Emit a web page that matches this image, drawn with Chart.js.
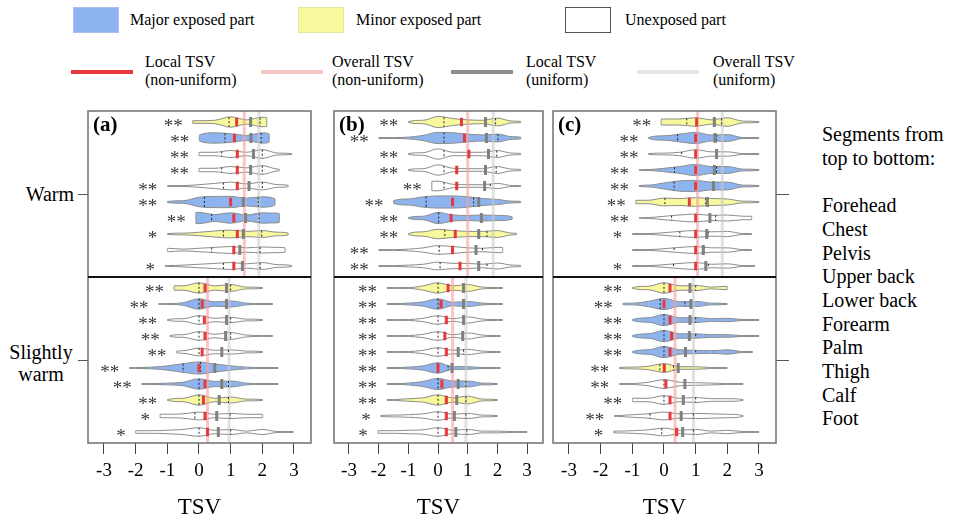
<!DOCTYPE html>
<html>
<head>
<meta charset="utf-8">
<script src="https://cdn.jsdelivr.net/npm/chart.js@4.4.1/dist/chart.umd.min.js"></script>
<style>
  body { margin: 0; background: #fff; font-family: 'Liberation Serif', 'Times New Roman', serif; color: #000; }
  #wrap { position: relative; width: 957px; height: 522px; overflow: hidden; }
  canvas { position: absolute; left: 0; top: 0; }
  .lg { position: absolute; font-size: 16px; line-height: 18px; white-space: nowrap; }
  .box { position: absolute; top: 7px; width: 46px; height: 26px; box-sizing: border-box; }
  .ln { position: absolute; top: 70px; width: 62px; height: 4px; }
  .side { position: absolute; font-size: 20px; white-space: nowrap; }
</style>
</head>
<body>
<div id="wrap">
  <div class="box" style="left:73px;background:#8db4ef;border:1px solid #a9c2e8"></div>
  <div class="lg" style="left:130px;top:11px">Major exposed part</div>
  <div class="box" style="left:298px;background:#f8f89c;border:1px solid #e6e6a8"></div>
  <div class="lg" style="left:356px;top:11px">Minor exposed part</div>
  <div class="box" style="left:565px;background:#fff;border:1.5px solid #555"></div>
  <div class="lg" style="left:625px;top:11px">Unexposed part</div>

  <div class="ln" style="left:71px;background:#e6383e"></div>
  <div class="lg" style="left:145px;top:53px">Local TSV<br>(non-uniform)</div>
  <div class="ln" style="left:261px;background:#f7c4c4"></div>
  <div class="lg" style="left:332px;top:53px">Overall TSV<br>(non-uniform)</div>
  <div class="ln" style="left:451px;background:#8e8e8e"></div>
  <div class="lg" style="left:526px;top:53px">Local TSV<br>(uniform)</div>
  <div class="ln" style="left:637px;background:#e6e6e6"></div>
  <div class="lg" style="left:713px;top:53px">Overall TSV<br>(uniform)</div>

  <div class="side" style="left:0;width:74px;top:182px;line-height:24px;text-align:right">Warm</div>
  <div class="side" style="left:8px;width:66px;top:341px;line-height:22px;text-align:center">Slightly<br>warm</div>
  <div class="side" id="segList" style="left:822px;top:123px;line-height:23.7px"></div>

  <canvas id="panelA" width="957" height="522"></canvas>
  <canvas id="panelB" width="957" height="522"></canvas>
  <canvas id="panelC" width="957" height="522"></canvas>
</div>
<script>
// ---- data ----
const panels = ['(a)', '(b)', '(c)'];
const conditions = ['Warm', 'Slightly warm'];
const segments = ['Forehead', 'Chest', 'Pelvis', 'Upper back', 'Lower back', 'Forearm', 'Palm', 'Thigh', 'Calf', 'Foot'];
const tsvTicks = [-3, -2, -1, 0, 1, 2, 3];
const tsvGrid = [-3, -2.5, -2, -1.5, -1, -0.5, 0, 0.5, 1, 1.5, 2, 2.5, 3];

// one entry per panel+condition: (a) warm, (a) slightly warm, (b) warm, ...
// M = major exposed, m = minor exposed, U = unexposed
const exposure = ['mMUUUMMmUU', 'mMUUUMMmUU', 'mMUUUMMmUU', 'mMUUUMMmUU', 'mMUMMmUUUU', 'mMMMMmUUUU'];

const significance = [
  ['**', '**', '**', '**', '**', '**', '**', '*', '', '*'],
  ['**', '**', '**', '**', '**', '**', '**', '**', '*', '*'],
  ['**', '**', '**', '**', '**', '**', '**', '**', '**', '**'],
  ['**', '**', '**', '**', '**', '**', '**', '**', '*', '*'],
  ['**', '**', '**', '**', '**', '**', '**', '*', '', '*'],
  ['**', '**', '**', '**', '**', '**', '**', '**', '**', '*']
];

const violinRange = [
  [[-0.2, 2.14], [0.01, 2.22], [0, 2.93], [0, 2.54], [-1, 2.82], [-1, 2.4], [-0.1, 2.54], [-1, 2.82], [-1, 2.72], [-1.07, 2.93]],
  [[-0.79, 2.01], [-1.28, 2.33], [-1, 2.01], [-0.92, 2.33], [-0.71, 2.01], [-2.2, 2.5], [-1.81, 2.5], [-1, 2.01], [-1.23, 2.01], [-2, 2.98]],
  [[-1, 2.79], [-2, 2.79], [-1, 2.79], [-1, 2.79], [-0.21, 2.79], [-1.5, 2.79], [-1, 2.5], [-1, 2.65], [-2, 2.18], [-2, 2.79]],
  [[-1.72, 2.18], [-1.72, 2.18], [-1.72, 2.18], [-1.72, 2.1], [-1.72, 2.1], [-1.72, 2.1], [-1.72, 2.0], [-1.72, 2.0], [-1.93, 2.0], [-2.03, 3.0]],
  [[-0.09, 3.0], [-0.49, 3.0], [-0.49, 3.0], [-0.79, 3.0], [-0.79, 3.0], [-0.89, 3.0], [-0.79, 2.77], [-1, 2.77], [-1, 2.77], [-1, 2.87]],
  [[-1, 2.0], [-1.3, 2.0], [-1, 3.0], [-1, 3.0], [-1, 2.8], [-1.41, 2.0], [-1.41, 2.5], [-1, 2.5], [-1.57, 2.5], [-1.6, 3.0]]
];

// violin density (relative half width) sampled on tsvGrid
const violinDensity = [
  [[0,0,0,0,0,3,3,4,12,5,11,8,0], [0,0,0,0,0,7,7,12,10,6,12,6,0], [0,0,0,0,0,0,4,4,8,4,10,2,1], [0,0,0,0,0,0,4,4,8,5,10,2,0],
   [0,0,0,0,1,1,3,6,9,5,9,3,1], [0,0,0,0,1,3,11,13,13,9,12,6,0], [0,0,0,0,0,12,13,8,12,7,12,11,0], [0,0,0,0,1,2,4,7,9,6,8,4,1],
   [0,0,0,0,4,2,4,6,8,5,7,6,4], [0,0,0,0,1,2,4,6,8,5,8,3,1]],
  [[0,0,0,0,5,5,12,5,8,2,1,0,0], [0,0,0,0,1,3,12,5,7,2,1,1,0], [0,0,0,0,1,3,10,4,6,2,1,0,0], [0,0,0,0,1,3,10,4,8,2,1,1,0],
   [0,0,0,0,0,3,9,4,5,2,1,0,0], [0,0,1,2,5,10,14,9,5,2,1,1,0], [0,0,1,1,2,4,12,6,7,2,1,1,0], [0,0,0,0,1,4,12,4,7,2,1,0,0],
   [0,0,0,4,4,5,9,4,6,4,4,0,0], [0,0,3,3,4,6,10,4,6,2,6,1,1]],
  [[0,0,0,0,1,4,13,8,5,4,9,2,1], [0,0,1,1,2,6,13,12,9,7,9,3,1], [0,0,0,0,1,3,12,4,4,4,8,2,1], [0,0,0,0,1,3,12,4,3,3,8,2,1],
   [0,0,0,0,0,11,11,4,3,3,6,1,1], [0,0,0,3,7,12,14,14,12,8,6,2,1], [0,0,0,0,1,4,13,7,6,7,6,3,0], [0,0,0,0,1,5,11,8,6,6,8,2,1],
   [0,0,1,1,2,5,10,8,5,4,6,6,0], [0,0,1,1,2,4,9,6,6,4,7,2,1]],
  [[0,0,1,1,1,5,12,5,8,2,1,1,0], [0,0,1,1,2,5,12,4,6,2,1,1,0], [0,0,1,1,1,4,10,3,7,2,1,1,0], [0,0,1,1,1,4,10,3,7,2,1,1,0],
   [0,0,1,1,1,4,10,4,6,2,1,1,0], [0,0,1,1,2,5,12,3,3,1,1,1,0], [0,0,1,1,2,6,13,7,7,2,1,0,0], [0,0,1,1,3,5,12,5,9,2,1,0,0],
   [0,0,1,2,3,5,10,4,6,2,1,0,0], [0,0,3,3,4,5,10,4,6,2,2,1,1]],
  [[0,0,0,0,0,7,7,7,10,5,10,2,1], [0,0,0,0,0,1,5,9,13,7,8,1,1], [0,0,0,0,0,1,2,4,10,5,5,1,1], [0,0,0,0,0,1,4,8,13,8,8,2,1],
   [0,0,0,0,0,2,7,12,13,9,9,2,1], [0,0,0,0,4,4,9,8,10,8,7,2,1], [0,0,0,0,0,1,4,7,9,6,7,4,4], [0,0,0,0,1,1,3,6,8,5,6,1,1],
   [0,0,0,0,1,1,3,6,8,5,5,1,1], [0,0,0,0,1,1,3,6,8,4,5,1,1]],
  [[0,0,0,0,1,4,12,5,6,2,4,0,0], [0,0,0,1,2,6,13,5,6,2,1,0,0], [0,0,0,0,1,5,13,5,6,3,4,1,1], [0,0,0,0,1,5,13,5,5,3,3,1,1],
   [0,0,0,0,1,5,13,5,4,3,5,1,1], [0,0,0,1,2,4,10,3,3,1,1,0,0], [0,0,0,1,1,4,10,4,3,2,1,1,0], [0,0,0,0,4,4,10,4,6,3,3,1,0],
   [0,0,0,1,3,5,9,5,6,5,4,1,0], [0,0,0,2,3,5,9,4,6,2,4,1,1]]
];

const localNonUniform = [
  [1.19, 1.12, 1.21, 1.21, 1.21, 1.0, 1.1, 1.21, 1.1, 1.1],
  [0.19, 0.1, 0.17, 0.19, 0.1, 0.0, 0.19, 0.14, 0.19, 0.27],
  [0.79, 0.89, 1.04, 0.63, 0.63, 0.49, 0.44, 0.58, 0.49, 0.74],
  [0.34, 0.1, 0.28, 0.23, 0.28, 0.0, 0.13, 0.28, 0.28, 0.28],
  [1.03, 1.0, 1.0, 1.0, 1.0, 0.8, 1.0, 1.0, 1.0, 1.0],
  [0.19, 0.0, 0.19, 0.24, 0.19, 0.01, 0.06, 0.19, 0.19, 0.4]
];
const localUniform = [
  [1.63, 1.64, 1.72, 1.63, 1.58, 1.4, 1.47, 1.4, 1.29, 1.37],
  [0.87, 0.87, 0.87, 0.84, 0.72, 0.5, 0.72, 0.64, 0.56, 0.61],
  [1.6, 1.63, 1.7, 1.6, 1.57, 1.37, 1.46, 1.37, 1.28, 1.37],
  [0.86, 0.86, 0.86, 0.83, 0.68, 0.47, 0.68, 0.63, 0.55, 0.6],
  [1.59, 1.61, 1.66, 1.59, 1.56, 1.37, 1.45, 1.35, 1.24, 1.32],
  [0.82, 0.85, 0.82, 0.8, 0.68, 0.45, 0.66, 0.61, 0.54, 0.59]
];
const quartileMarks = [
  [[0.95, 1.93], [0.82, 1.96], [0.72, 2.0], [0.72, 2.0], [0.77, 2.0], [0.17, 1.87], [0.4, 1.9], [0.77, 1.98], [0.4, 1.93], [0.77, 1.93]],
  [[0, 1], [0, 0.87], [0, 1], [0, 1], [0, 0.93], [-0.5, 0.05], [0, 0.93], [0, 0.93], [-0.13, 0.98], [0, 1]],
  [[0.2, 1.94], [0.2, 2.02], [0.2, 1.98], [0.2, 1.96], [0.2, 1.76], [-0.4, 1.2], [0.02, 1.46], [0.23, 1.65], [0.04, 1.5], [0.07, 1.65]],
  [[0, 0.86], [0, 0.86], [0, 0.86], [0, 0.86], [0, 0.86], [0, 0.34], [0, 0.94], [0, 0.94], [0, 0.94], [0, 0.97]],
  [[0.72, 1.82], [0.43, 1.66], [0.56, 1.66], [0.33, 1.66], [0.32, 1.56], [0.03, 1.32], [0.24, 1.63], [0.5, 1.4], [0.32, 1.27], [0.3, 1.4]],
  [[0, 1], [-0.12, 0.66], [0, 1], [0, 1], [0, 1], [-0.13, 0.3], [0, 0.08], [0, 1], [-0.44, 0.93], [-0.07, 0.93]]
];
const overallNonUniform = [1.43, 0.27, 1.0, 0.49, 1.06, 0.35];
const overallUniform = [1.89, 0.95, 1.86, 0.94, 1.84, 0.93];

// ---- drawing ----
const serif = "'Liberation Serif', 'Times New Roman', serif";
const partFill = { M: '#8db4ef', m: '#f8f89c', U: '#ffffff' };
const halfSpan = 10.375;   // y units per condition block (16 px per row)
const rowOffset = 0.6875;
const wScale = 1 / 37;

document.getElementById('segList').innerHTML =
  ['Segments from', 'top to bottom:', '&nbsp;'].concat(segments).join('<br>');

function rowY(half, i) { return half * halfSpan + rowOffset + i; }

function widthAt(w, v) {
  if (v <= tsvGrid[0]) return w[0];
  if (v >= tsvGrid[tsvGrid.length - 1]) return w[w.length - 1];
  const k = Math.floor((v - tsvGrid[0]) / 0.5);
  const t = (v - tsvGrid[k]) / 0.5;
  return w[k] + (w[k + 1] - w[k]) * t;
}

function outline(yc, range, w, sign) {
  const [lo, hi] = range;
  const pts = [{ x: lo, y: yc }, { x: lo + 0.003, y: yc + sign * widthAt(w, lo) * wScale }];
  tsvGrid.forEach((v, k) => {
    if (v > lo + 0.01 && v < hi - 0.01) pts.push({ x: v, y: yc + sign * w[k] * wScale });
  });
  pts.push({ x: hi - 0.003, y: yc + sign * widthAt(w, hi) * wScale }, { x: hi, y: yc });
  return pts;
}

function buildDatasets(p) {
  const red = [], grey = [], dots = [], pink = [], light = [], violins = [];
  for (let half = 0; half < 2; half++) {
    const h = p * 2 + half;
    const y0 = half * halfSpan, y1 = y0 + halfSpan;
    pink.push({ x: overallNonUniform[h], y: y0 }, { x: overallNonUniform[h], y: y1 }, { x: overallNonUniform[h], y: null });
    light.push({ x: overallUniform[h], y: y0 }, { x: overallUniform[h], y: y1 }, { x: overallUniform[h], y: null });
    for (let i = 0; i < segments.length; i++) {
      const yc = rowY(half, i);
      const w = violinDensity[h][i];
      red.push({ x: localNonUniform[h][i], y: yc - 0.27 }, { x: localNonUniform[h][i], y: yc + 0.27 }, { x: localNonUniform[h][i], y: null });
      grey.push({ x: localUniform[h][i], y: yc - 0.32 }, { x: localUniform[h][i], y: yc + 0.32 }, { x: localUniform[h][i], y: null });
      quartileMarks[h][i].forEach(d => {
        const hw = widthAt(w, d) * wScale;
        dots.push({ x: d, y: yc - hw }, { x: d, y: yc + hw }, { x: d, y: null });
      });
      const base = { type: 'line', borderColor: '#8c8c8c', borderWidth: 1, pointRadius: 0, cubicInterpolationMode: 'monotone' };
      violins.push(
        { ...base, data: outline(yc, violinRange[h][i], w, -1), fill: false },
        { ...base, data: outline(yc, violinRange[h][i], w, 1), fill: '-1', backgroundColor: partFill[exposure[h][i]] }
      );
    }
  }
  const mark = { type: 'line', pointRadius: 0, tension: 0, fill: false, spanGaps: false };
  return [
    { ...mark, data: red, borderColor: '#e6383e', borderWidth: 3 },
    { ...mark, data: grey, borderColor: '#808080', borderWidth: 3 },
    { ...mark, data: dots, borderColor: '#222', borderWidth: 1, borderDash: [2, 2] },
    { ...mark, data: pink, borderColor: 'rgba(243,160,160,0.6)', borderWidth: 3 },
    { ...mark, data: light, borderColor: 'rgba(200,200,200,0.55)', borderWidth: 3 }
  ].concat(violins);
}

const decor = {
  id: 'decor',
  afterDatasetsDraw(chart, args, opts) {
    const { ctx, chartArea: ca, scales: { x, y } } = chart;
    ctx.save();
    ctx.strokeStyle = '#707070';
    ctx.lineWidth = 1.5;
    ctx.strokeRect(ca.left, ca.top, ca.right - ca.left, ca.bottom - ca.top);
    const yd = y.getPixelForValue(halfSpan);
    ctx.strokeStyle = '#111';
    ctx.lineWidth = 2;
    ctx.beginPath();
    ctx.moveTo(ca.left, yd);
    ctx.lineTo(ca.right, yd);
    ctx.stroke();
    ctx.fillStyle = '#000';
    ctx.font = 'bold 21px ' + serif;
    ctx.textAlign = 'left';
    ctx.textBaseline = 'middle';
    ctx.fillText(panels[opts.panel], ca.left + 5, ca.top + 15);
    ctx.font = '19px ' + serif;
    ctx.fillStyle = '#3a3a3a';
    ctx.textAlign = 'right';
    for (let half = 0; half < 2; half++) {
      const h = opts.panel * 2 + half;
      significance[h].forEach((s, i) => {
        if (!s) return;
        ctx.fillText(s, x.getPixelForValue(violinRange[h][i][0]) - 10, y.getPixelForValue(rowY(half, i)) + 5);
      });
    }
    ctx.restore();
  }
};

const frames = [
  { id: 'panelA', left: 88, right: 311, yAxis: 'left' },
  { id: 'panelB', left: 320, right: 543, yAxis: null },
  { id: 'panelC', left: 553, right: 776, yAxis: 'right' }
];

frames.forEach((f, p) => {
  const sideWidth = f.yAxis === 'left' ? 88 : 14;
  const yScale = {
    type: 'linear', min: 0, max: 2 * halfSpan, reverse: true,
    display: !!f.yAxis, position: f.yAxis || 'left',
    afterBuildTicks: s => { s.ticks = [halfSpan / 2, halfSpan * 1.5].map(v => ({ value: v })); },
    afterFit: s => { s.width = sideWidth; },
    ticks: { display: false },
    grid: { drawOnChartArea: false, drawTicks: true, tickLength: f.yAxis === 'left' ? 10 : 13, color: '#555' },
    border: { display: false }
  };
  new Chart(document.getElementById(f.id), {
    type: 'line',
    data: { datasets: buildDatasets(p) },
    options: {
      responsive: false,
      animation: false,
      devicePixelRatio: 1,
      events: [],
      layout: {
        padding: {
          left: f.yAxis === 'left' ? 0 : f.left,
          right: f.yAxis === 'right' ? 957 - f.right - sideWidth : 957 - f.right,
          top: 111,
          bottom: 0
        }
      },
      scales: {
        x: {
          type: 'linear', min: -3.505, max: 3.537,
          afterBuildTicks: s => { s.ticks = tsvTicks.map(v => ({ value: v })); },
          afterFit: s => { s.height = 79; },
          grid: { drawOnChartArea: false, drawTicks: true, tickLength: 11, color: '#444' },
          border: { display: false },
          ticks: { color: '#000', font: { family: serif, size: 19 }, padding: 6, maxRotation: 0, autoSkip: false },
          title: { display: true, text: 'TSV', color: '#000', font: { family: serif, size: 23 }, padding: { top: 0, bottom: 0 } }
        },
        y: yScale
      },
      plugins: {
        legend: { display: false },
        tooltip: { enabled: false },
        decor: { panel: p }
      }
    },
    plugins: [decor]
  });
});
</script>
</body>
</html>
